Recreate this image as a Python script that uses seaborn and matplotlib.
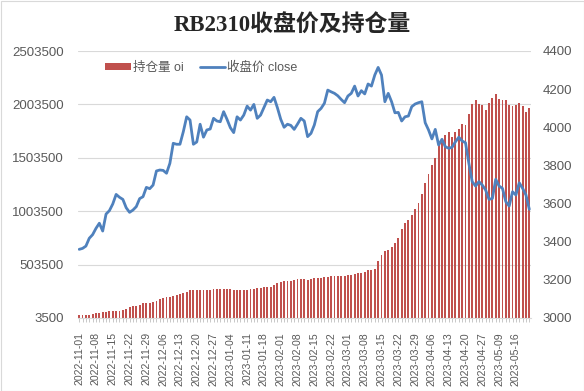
import numpy as np
import pandas as pd
import seaborn as sns
import matplotlib.pyplot as plt
from matplotlib.patches import Patch, Rectangle
from matplotlib.lines import Line2D

# trading days (exchange holidays removed)
holidays = ['2023-01-02', '2023-01-23', '2023-01-24', '2023-01-25', '2023-01-26',
            '2023-01-27', '2023-04-05', '2023-05-01', '2023-05-02', '2023-05-03']
dates = pd.bdate_range('2022-11-01', '2023-05-22')
dates = dates[~dates.isin(pd.to_datetime(holidays))]
date_labels = dates.strftime('%Y-%m-%d').tolist()

# open interest (持仓量 oi)
oi = [31600, 31600, 31600, 31600, 43800, 53100, 53100, 59700, 59700, 69000,
      69000, 69000, 69000, 78400, 87800, 106500, 115900, 115900, 128000, 143900,
      143900, 146800, 153300, 162700, 178600, 188000, 197300, 197300, 206700, 216000,
      225400, 237600, 246900, 265700, 265700, 265700, 265700, 265700, 265700, 265700,
      275000, 275000, 275000, 275000, 275000, 275000, 265700, 265700, 265700, 265700,
      265700, 275000, 277800, 287200, 287200, 293800, 293800, 293800, 312500, 331200,
      340600, 349900, 349900, 349900, 359300, 368700, 368700, 368700, 359300, 368700,
      378000, 378000, 378000, 387400, 387400, 396700, 396700, 396700, 396700, 396700,
      406100, 406100, 415500, 424800, 424800, 434200, 452900, 452900, 462300, 537200,
      593400, 630800, 640200, 668300, 705700, 752500, 836800, 893000, 921100, 967900,
      1024100, 1080200, 1164500, 1270300, 1351800, 1433200, 1504400, 1623300, 1670100, 1716900,
      1742200, 1695400, 1742200, 1773100, 1819900, 1810600, 1913600, 2007200, 2044600, 2007200,
      1997800, 1951000, 2013700, 2063400, 2100800, 2051200, 2044600, 2044600, 1997800, 1988500,
      1997800, 2013700, 1988500, 1932300, 1966900]

# closing price (收盘价 close)
close = [3360, 3365, 3377, 3418, 3437, 3470, 3497, 3456, 3545, 3563,
         3598, 3648, 3633, 3622, 3578, 3554, 3566, 3584, 3626, 3636,
         3685, 3678, 3697, 3771, 3776, 3774, 3759, 3811, 3916, 3911,
         3911, 3977, 4055, 4038, 3911, 3923, 4016, 3948, 3986, 3991,
         4047, 4033, 4029, 4082, 4042, 3998, 3972, 4055, 4038, 4064,
         4111, 4090, 4120, 4047, 4064, 4103, 4143, 4134, 4157, 4103,
         4042, 4000, 4016, 4010, 3989, 4017, 4047, 4033, 3951, 3968,
         4012, 4082, 4099, 4126, 4195, 4186, 4178, 4165, 4146, 4129,
         4164, 4178, 4216, 4164, 4192, 4175, 4227, 4216, 4274, 4314,
         4274, 4134, 4178, 4134, 4076, 4078, 4033, 4055, 4059, 4108,
         4122, 4129, 4134, 4024, 3986, 3939, 3989, 3907, 3937, 3898,
         3890, 3895, 3924, 3948, 3928, 3919, 3811, 3715, 3692, 3715,
         3697, 3671, 3622, 3627, 3727, 3692, 3680, 3610, 3587, 3662,
         3645, 3709, 3680, 3645, 3570]

left_ticks = [3500, 503500, 1003500, 1503500, 2003500, 2503500]
right_ticks = [3000, 3200, 3400, 3600, 3800, 4000, 4200, 4400]

bar_color = '#C0504D'
line_color = '#4F81BD'
text_gray = '#595959'
grid_gray = '#D9D9D9'

sns.set_style('white')
plt.rcParams['font.family'] = ['Liberation Sans', 'Noto Sans CJK SC']

W, H = 584, 391
fig = plt.figure(figsize=(W / 100, H / 100), dpi=100)
ax = fig.add_axes([77.5 / W, 1 - 318 / H, (531 - 77.5) / W, (318 - 51) / H])

n = len(date_labels)
sns.barplot(x=date_labels, y=oi, color=bar_color, saturation=1, width=0.56,
            linewidth=0, ax=ax)
ax.set_xlim(-0.5, n - 0.5)
ax.set_ylim(left_ticks[0], left_ticks[-1])
ax.set_yticks(left_ticks)
ax.set_yticklabels([str(v) for v in left_ticks])
ax.grid(axis='y', color=grid_gray, linewidth=0.8)
ax.grid(axis='x', visible=False)
ax.set_axisbelow(True)
ax.set_xticks(range(0, n, 5))
ax.set_xticklabels(date_labels[::5], rotation=90)
ax.set_xticks(range(n), minor=True)
ax.tick_params(axis='x', which='both', length=3, color='#BFBFBF', width=0.6,
               labelsize=7.6, labelcolor=text_gray, pad=7, bottom=True)
ax.tick_params(axis='y', length=0, labelsize=9.5, labelcolor=text_gray, pad=10)
ax.set_xlabel('')
ax.set_ylabel('')
for s in ['top', 'left', 'right']:
    ax.spines[s].set_visible(False)
ax.spines['bottom'].set_color(grid_gray)
ax.spines['bottom'].set_linewidth(0.8)

ax2 = ax.twinx()
sns.lineplot(x=np.arange(n), y=close, color=line_color, linewidth=2.0, ax=ax2)
ax2.set_ylim(right_ticks[0], right_ticks[-1])
ax2.set_yticks(right_ticks)
ax2.set_yticklabels([str(v) for v in right_ticks])
ax2.tick_params(axis='y', length=0, labelsize=9.5, labelcolor=text_gray, pad=8.4)
ax2.set_ylabel('')
for s in ax2.spines.values():
    s.set_visible(False)

handles = [Patch(facecolor=bar_color, edgecolor='none'),
           Line2D([0], [0], color=line_color, linewidth=2.0)]
leg = fig.legend(handles, ['持仓量 oi', '收盘价 close'], loc='center left',
                 bbox_to_anchor=(105 / W, 1 - 67.5 / H), ncol=2, frameon=False,
                 fontsize=9, handlelength=2.05, handleheight=0.5, handletextpad=0.16,
                 columnspacing=1.3, borderpad=0, borderaxespad=0)
for t in leg.get_texts():
    t.set_color(text_gray)

fig.text(0.5, 1 - 26 / H, 'RB2310收盘价及持仓量', ha='center', va='center',
         fontsize=16.5, fontweight='bold',
         family=['Liberation Serif', 'Noto Sans CJK SC'])

fig.patches.append(Rectangle((0.5 / W, 0.5 / H), 1 - 1 / W, 1 - 1 / H,
                             transform=fig.transFigure, fill=False,
                             edgecolor=grid_gray, linewidth=0.8))

fig.savefig('out.png', dpi=100)
